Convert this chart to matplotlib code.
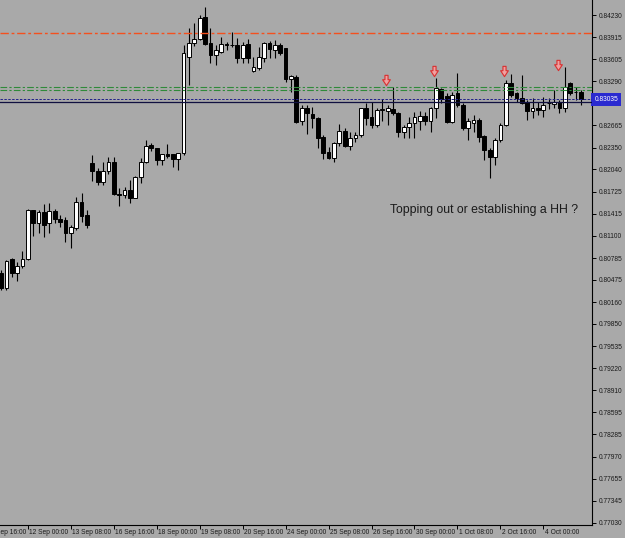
import numpy as np
import matplotlib.pyplot as plt
from matplotlib.path import Path

# 4H candles
opens = [0.80573, 0.80360, 0.80771, 0.80573, 0.80672, 0.80771, 0.81466, 0.81282, 0.81438, 0.81282,
         0.81452, 0.81338, 0.81324, 0.81140, 0.81211, 0.81579, 0.81395, 0.82132, 0.82019, 0.81863,
         0.82019, 0.82147, 0.81693, 0.81679, 0.81750, 0.81636, 0.81934, 0.82147, 0.82388, 0.82345,
         0.82175, 0.82260, 0.82260, 0.82189, 0.82274, 0.83635, 0.83833, 0.83890, 0.84202, 0.83833,
         0.83663, 0.83706, 0.83819, 0.83805, 0.83805, 0.83621, 0.83819, 0.83437, 0.83479, 0.83621,
         0.83833, 0.83734, 0.83805, 0.83763, 0.83323, 0.83352, 0.82728, 0.82912, 0.82827, 0.82770,
         0.82501, 0.82288, 0.82203, 0.82416, 0.82586, 0.82373, 0.82487, 0.82529, 0.82912, 0.82784,
         0.82671, 0.82884, 0.82869, 0.82898, 0.82841, 0.82572, 0.82643, 0.82699, 0.82728, 0.82799,
         0.82728, 0.82912, 0.83181, 0.83082, 0.82714, 0.83125, 0.82955, 0.82628, 0.82699, 0.82742,
         0.82515, 0.82317, 0.82217, 0.82458, 0.82671, 0.83267, 0.83125, 0.83054, 0.82997, 0.82869,
         0.82912, 0.82884, 0.82983, 0.82969, 0.82997, 0.82912, 0.83267, 0.83139, 0.83139]
highs = [0.80615, 0.80757, 0.80785, 0.80729, 0.80885, 0.81480, 0.81466, 0.81466, 0.81551, 0.81565,
         0.81480, 0.81395, 0.81367, 0.81253, 0.81650, 0.81707, 0.81466, 0.82246, 0.82061, 0.82147,
         0.82217, 0.82217, 0.81778, 0.81792, 0.81891, 0.81948, 0.82203, 0.82458, 0.82416, 0.82345,
         0.82260, 0.82402, 0.82260, 0.82274, 0.83805, 0.84046, 0.84117, 0.84230, 0.84344, 0.84046,
         0.83805, 0.83918, 0.83848, 0.83989, 0.83904, 0.83848, 0.83890, 0.83635, 0.83777, 0.83848,
         0.83862, 0.83876, 0.83833, 0.83763, 0.83380, 0.83380, 0.82955, 0.82955, 0.82926, 0.82784,
         0.82529, 0.82359, 0.82430, 0.82685, 0.82628, 0.82572, 0.82572, 0.82912, 0.82983, 0.82997,
         0.82912, 0.83040, 0.82955, 0.83210, 0.82855, 0.82671, 0.82784, 0.82855, 0.82869, 0.82855,
         0.82926, 0.83337, 0.83196, 0.83125, 0.83139, 0.83408, 0.82983, 0.82770, 0.82813, 0.82770,
         0.82529, 0.82345, 0.82487, 0.82699, 0.83309, 0.83394, 0.83139, 0.83380, 0.83025, 0.83054,
         0.82997, 0.83068, 0.83054, 0.83167, 0.83025, 0.83493, 0.83281, 0.83210, 0.83167]
lows = [0.80332, 0.80332, 0.80516, 0.80459, 0.80644, 0.80757, 0.81097, 0.81140, 0.81083, 0.81140,
        0.81282, 0.81225, 0.81012, 0.80927, 0.81182, 0.81296, 0.81211, 0.81877, 0.81820, 0.81820,
        0.81976, 0.81679, 0.81523, 0.81636, 0.81565, 0.81636, 0.81849, 0.82132, 0.82302, 0.82104,
        0.82104, 0.82203, 0.82076, 0.82033, 0.82246, 0.83238, 0.83791, 0.83876, 0.83805, 0.83550,
        0.83522, 0.83692, 0.83734, 0.83777, 0.83550, 0.83550, 0.83550, 0.83422, 0.83451, 0.83564,
        0.83621, 0.83621, 0.83663, 0.83281, 0.83139, 0.82699, 0.82671, 0.82543, 0.82628, 0.82345,
        0.82189, 0.82189, 0.82147, 0.82373, 0.82359, 0.82317, 0.82430, 0.82501, 0.82671, 0.82628,
        0.82643, 0.82728, 0.82671, 0.82813, 0.82501, 0.82487, 0.82487, 0.82487, 0.82600, 0.82671,
        0.82572, 0.82770, 0.82983, 0.82699, 0.82699, 0.82926, 0.82600, 0.82458, 0.82572, 0.82430,
        0.82175, 0.81920, 0.82104, 0.82430, 0.82657, 0.83068, 0.82997, 0.82969, 0.82742, 0.82770,
        0.82813, 0.82784, 0.82898, 0.82912, 0.82841, 0.82855, 0.83096, 0.83025, 0.82955]
closes = [0.80360, 0.80743, 0.80573, 0.80672, 0.80771, 0.81466, 0.81282, 0.81438, 0.81253, 0.81452,
          0.81338, 0.81296, 0.81140, 0.81225, 0.81579, 0.81381, 0.81253, 0.82019, 0.81863, 0.82019,
          0.82147, 0.81693, 0.81679, 0.81750, 0.81636, 0.81934, 0.82147, 0.82373, 0.82345, 0.82175,
          0.82260, 0.82232, 0.82189, 0.82274, 0.83692, 0.83833, 0.83890, 0.84188, 0.83819, 0.83663,
          0.83734, 0.83819, 0.83805, 0.83800, 0.83621, 0.83805, 0.83621, 0.83493, 0.83635, 0.83833,
          0.83748, 0.83805, 0.83692, 0.83323, 0.83366, 0.82714, 0.82912, 0.82841, 0.82770, 0.82487,
          0.82274, 0.82203, 0.82416, 0.82586, 0.82373, 0.82487, 0.82529, 0.82912, 0.82770, 0.82671,
          0.82884, 0.82898, 0.82912, 0.82841, 0.82572, 0.82643, 0.82699, 0.82784, 0.82799, 0.82728,
          0.82912, 0.83196, 0.83040, 0.82714, 0.83096, 0.82955, 0.82628, 0.82728, 0.82742, 0.82501,
          0.82317, 0.82217, 0.82458, 0.82671, 0.83267, 0.83096, 0.83054, 0.82983, 0.82869, 0.82912,
          0.82884, 0.82955, 0.82980, 0.82997, 0.82912, 0.83210, 0.83125, 0.83135, 0.83035]

# horizontal lines drawn on the chart
red_level = 0.83975
green_levels = [0.83210, 0.83174]
bid_dashed = 0.83035
bid_solid = 0.83000
last_price = '0.83035'

# down arrows over the highs
arrow_bar = [71.7, 80.6, 93.7, 103.7]
arrow_price = [0.83309, 0.83437, 0.83437, 0.83522]

note = 'Topping out or establishing a HH ?'
note_bar, note_price = 72.4, 0.81466

price_ticks = [0.84230, 0.83915, 0.83605, 0.83290, 0.82665, 0.82350, 0.82040, 0.81725,
               0.81415, 0.81100, 0.80785, 0.80475, 0.80160, 0.79850, 0.79535, 0.79220,
               0.78910, 0.78595, 0.78285, 0.77970, 0.77655, 0.77345, 0.77030]
date_pos = [-3, 5, 13, 21, 29, 37, 45, 53, 61, 69, 77, 85, 93, 101]
date_labels = ['10 Sep 16:00', '12 Sep 00:00', '13 Sep 08:00', '16 Sep 16:00', '18 Sep 00:00',
               '19 Sep 08:00', '20 Sep 16:00', '24 Sep 00:00', '25 Sep 08:00', '26 Sep 16:00',
               '30 Sep 00:00', '1 Oct 08:00', '2 Oct 16:00', '4 Oct 00:00']

bg = '#a9a9a9'
tick_font = dict(family='Liberation Sans', size=4.8, color='#1a1a1a')

o = np.array(opens)
h = np.array(highs)
l = np.array(lows)
c = np.array(closes)
bars = np.arange(len(o))
up = c >= o

fig = plt.figure(figsize=(6.25, 5.38), dpi=100, facecolor=bg)
ax = fig.add_axes([0, 13 / 538, 592 / 625, 525 / 538])
ax.set_facecolor(bg)

# candles
ax.vlines(bars, l, h, color='black', lw=0.8, zorder=2)
ax.bar(bars, np.maximum(np.abs(c - o), 0.00001), bottom=np.minimum(o, c), width=0.7,
       color=np.where(up, 'white', 'black'), edgecolor='black', linewidth=0.7, zorder=3)

# levels
ax.axhline(red_level, color='#f4501e', lw=1.0, dashes=(6, 2, 2, 2), zorder=4)
for g in green_levels:
    ax.axhline(g, color='#2f8a3a', lw=0.8, dashes=(6, 2, 2, 2), zorder=4)
ax.axhline(bid_dashed, color='#20208a', lw=0.7, dashes=(2.5, 1.5), zorder=4)
ax.axhline(bid_solid, color='#101040', lw=0.9, zorder=4)

# arrows
arrow = Path([(-0.3, 1), (0.3, 1), (0.3, 0.15), (0.75, 0.15), (0, -1), (-0.75, 0.15), (-0.3, 0.15), (-0.3, 1)],
             [Path.MOVETO] + [Path.LINETO] * 6 + [Path.CLOSEPOLY])
ax.scatter(arrow_bar, arrow_price, marker=arrow, s=55, facecolor='#f2a0a0', edgecolor='#d83030',
           linewidth=0.8, zorder=5)

ax.text(note_bar, note_price, note, family='Liberation Sans', fontsize=8.8, color='#1a1a1a',
        ha='left', va='center')

ax.set_xlim(-0.19, 110.06)
ax.set_ylim(0.77000, 0.84443)

# axes look like MT4
for s in ['left', 'top']:
    ax.spines[s].set_visible(False)
for s in ['right', 'bottom']:
    ax.spines[s].set_color('black')
    ax.spines[s].set_linewidth(0.8)

ax.yaxis.tick_right()
ax.set_yticks(price_ticks, [f'{p:.5f}' for p in price_ticks])
ax.tick_params(axis='y', length=3, width=0.7, pad=2, labelsize=tick_font['size'],
               labelcolor=tick_font['color'])
for lbl in ax.get_yticklabels():
    lbl.set_family(tick_font['family'])

ax.set_xticks(date_pos[1:], [''] * (len(date_pos) - 1))
ax.tick_params(axis='x', length=3, width=0.7)
xt = ax.get_xaxis_transform()
for pos, lab in zip(date_pos, date_labels):
    ax.text(pos + 0.3, -0.0135, lab, transform=xt, ha='left', va='center', clip_on=False,
            family=tick_font['family'], fontsize=tick_font['size'], color=tick_font['color'])

# bid price box on the price scale
ax.text(1.004, bid_dashed, last_price, transform=ax.get_yaxis_transform(), ha='left', va='center',
        family=tick_font['family'], fontsize=tick_font['size'], color='white', clip_on=False,
        bbox=dict(boxstyle='square,pad=0.45', fc='#2a2ad0', ec='none'))

fig.savefig('out.png', dpi=100, facecolor=bg)
